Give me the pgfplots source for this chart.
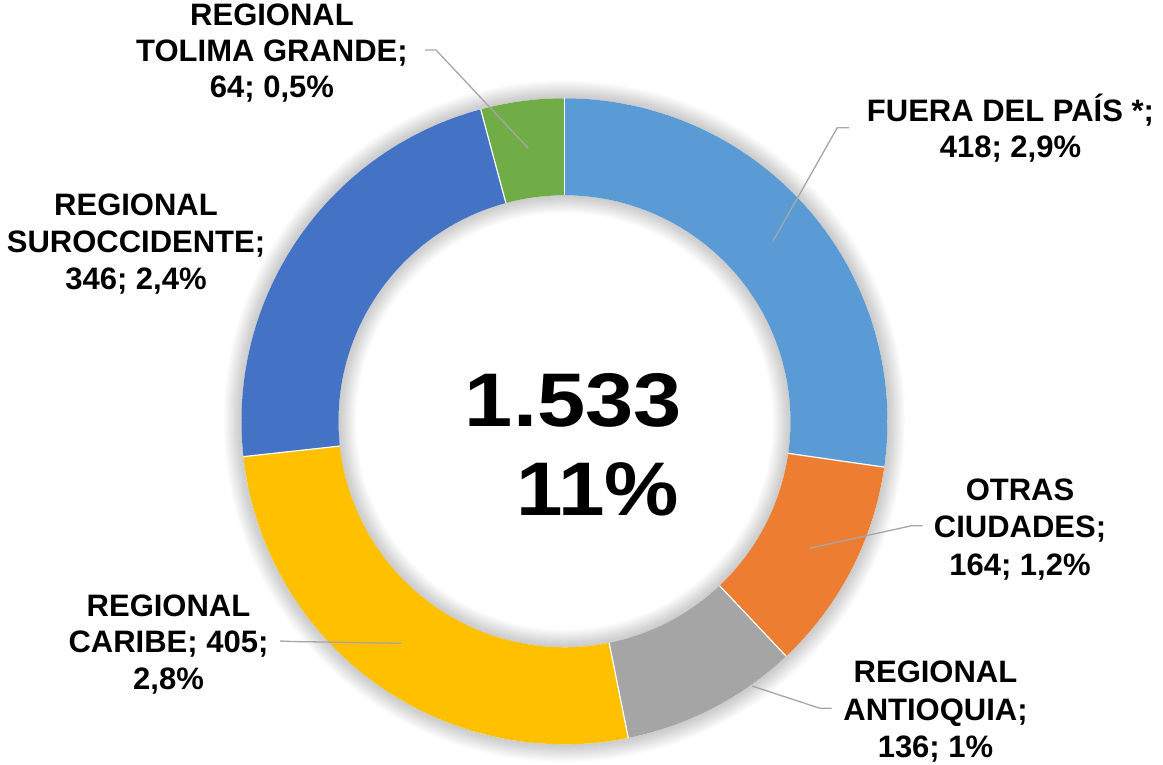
\documentclass[border=0pt]{standalone}
\usepackage{fontspec}
\setmainfont{Liberation Sans}
\usepackage{graphicx}
\usepackage{pgfplots}
\usepackage{pgfplotstable}
\pgfplotsset{compat=1.18}

\definecolor{cFuera}{HTML}{5B9BD5}
\definecolor{cOtras}{HTML}{ED7D31}
\definecolor{cAntioquia}{HTML}{A5A5A5}
\definecolor{cCaribe}{HTML}{FFC000}
\definecolor{cSuroccidente}{HTML}{4472C4}
\definecolor{cTolima}{HTML}{70AD47}
\definecolor{leader}{HTML}{A6A6A6}

% clockwise from 12 o'clock
\pgfplotstableread{
region value
Fuera 418
Otras 164
Antioquia 136
Caribe 405
Suroccidente 346
Tolima 64
}\donut

\def\total{0}%
\pgfplotsforeachungrouped \i in {0,...,5}{%
  \pgfplotstablegetelem{\i}{value}\of\donut
  \pgfmathsetmacro\total{\total+\pgfplotsretval}}%
\def\cum{0}%
\pgfplotsforeachungrouped \i in {0,...,5}{%
  \pgfplotstablegetelem{\i}{value}\of\donut
  \pgfmathsetmacro\angA{90-360*(\cum/\total)}%
  \pgfmathsetmacro\cum{\cum+\pgfplotsretval}%
  \pgfmathsetmacro\angB{90-360*(\cum/\total)}%
  \expandafter\let\csname segA\i\endcsname\angA
  \expandafter\let\csname segB\i\endcsname\angB}%

\def\cx{564.5}\def\cy{421.3}
\def\Rout{323}\def\Rin{226}

\newcommand\seg[2]{%
  \fill[#2] (axis cs:\cx,\cy) ++(\csname segA#1\endcsname:\Rout pt)
    arc[start angle=\csname segA#1\endcsname, end angle=\csname segB#1\endcsname, radius=\Rout pt]
    -- ++(\csname segB#1\endcsname+180:\Rout pt-\Rin pt)
    arc[start angle=\csname segB#1\endcsname, end angle=\csname segA#1\endcsname, radius=\Rin pt]
    -- cycle;}
\newcommand\sep[1]{%
  \draw[white, line width=1.2pt] (axis cs:\cx,\cy) ++(\csname segA#1\endcsname:\Rin pt)
    -- ++(\csname segA#1\endcsname:\Rout pt-\Rin pt);}
\newcommand\lf{\fontsize{31}{37}\selectfont\bfseries}
\newcommand\lab[3]{\node[anchor=base, inner sep=0pt, font=\lf] at (axis cs:#1,#2) {#3};}

\begin{document}
\begin{tikzpicture}
\begin{axis}[
  width=1163pt, height=765pt, scale only axis, hide axis,
  xmin=0, xmax=1163, ymin=0, ymax=765, y dir=reverse, clip=false,
]
\path (axis cs:0,0) rectangle (axis cs:1163,765);

% soft glow around the ring
\pgfplotsinvokeforeach{1,...,18}{
  \fill[black, opacity=0.011, even odd rule]
    (axis cs:\cx,\cy) circle[radius=\Rout pt+#1pt]
    (axis cs:\cx,\cy) circle[radius=\Rout pt];
  \fill[black, opacity=0.011, even odd rule]
    (axis cs:\cx,\cy) circle[radius=\Rin pt]
    (axis cs:\cx,\cy) circle[radius=\Rin pt-#1pt];
}

\seg{0}{cFuera}
\seg{1}{cOtras}
\seg{2}{cAntioquia}
\seg{3}{cCaribe}
\seg{4}{cSuroccidente}
\seg{5}{cTolima}
\sep{0}\sep{1}\sep{2}\sep{3}\sep{4}\sep{5}

% leader lines
\draw[leader, line width=1.3pt] (axis cs:772.7,241.7) -- (axis cs:837.3,127.7) -- (axis cs:849,127.7);
\draw[leader, line width=1.3pt] (axis cs:809.3,548.3) -- (axis cs:911.7,525.7) -- (axis cs:922.7,525.7);
\draw[leader, line width=1.3pt] (axis cs:752,686) -- (axis cs:820,708.3) -- (axis cs:831.7,708.3);
\draw[leader, line width=1.3pt] (axis cs:401.7,643.3) -- (axis cs:292,641.5) -- (axis cs:280,641);
\draw[leader, line width=1.3pt] (axis cs:528.3,148.3) -- (axis cs:436,50) -- (axis cs:425,50);

% data labels
\lab{272}{26}{REGIONAL}
\lab{272}{62}{TOLIMA GRANDE;}
\lab{272}{97.5}{64; 0,5\%}
\lab{1010.5}{121.7}{FUERA DEL PAÍS *;}
\lab{1010.5}{157.3}{418; 2,9\%}
\lab{136}{215.7}{REGIONAL}
\lab{136}{252}{SUROCCIDENTE;}
\lab{136}{289}{346; 2,4\%}
\lab{1020}{500.7}{OTRAS}
\lab{1020}{537.7}{CIUDADES;}
\lab{1020}{575}{164; 1,2\%}
\lab{935.5}{682.7}{REGIONAL}
\lab{935.5}{720}{ANTIOQUIA;}
\lab{935.5}{757}{136; 1\%}
\lab{168.5}{616}{REGIONAL}
\lab{168.5}{652.7}{CARIBE; 405;}
\lab{168.5}{689.3}{2,8\%}

% total in the hole
\node[anchor=base, inner sep=0pt, font={\fontsize{76}{80}\selectfont\bfseries}]
  at (axis cs:573.3,426) {\scalebox{1.14}[1]{1.533}};
\node[anchor=base, inner sep=0pt, font={\fontsize{76}{80}\selectfont\bfseries}]
  at (axis cs:597.5,515) {\scalebox{1.1}[1]{11\%}};
\end{axis}
\end{tikzpicture}
\end{document}
